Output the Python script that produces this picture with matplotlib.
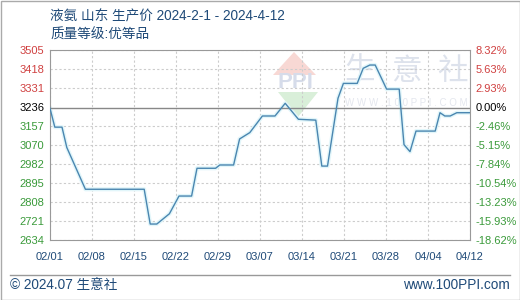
import matplotlib as mpl
mpl.use('agg')
import matplotlib.pyplot as plt
from matplotlib.patches import Polygon, Rectangle
from matplotlib.lines import Line2D
import numpy as np

plt.rcParams['font.family'] = ['Liberation Sans', 'Noto Sans CJK SC', 'DejaVu Sans']

# price series: day offset from 2024-02-01, price (yuan/t)
days = [0, 0.8, 2, 2.8, 5.9, 15.7, 16.7, 17.8, 19.9, 21.5, 23.6, 24.5, 27.6, 28.3,
        30.6, 31.6, 33.3, 35.4, 37.5, 39.2, 41.4, 44.3, 45.3, 46.25, 48, 48.9, 51.2,
        52.2, 53.3, 54.2, 56.1, 58.2, 59, 60, 61, 64.2, 65, 65.8, 66.7, 67.8, 70]
prices = [3236, 3150, 3150, 3057, 2866, 2866, 2707, 2707, 2754, 2835, 2835, 2962, 2962, 2977,
          2977, 3096, 3125, 3201, 3201, 3259, 3186, 3182, 2972, 2972, 3282, 3350, 3350,
          3419, 3434, 3434, 3324, 3324, 3070, 3038, 3132, 3132, 3216, 3201, 3201, 3216, 3216]

base = 3236
ymin, ymax = 2634, 3505
left_labels = ['2634', '2721', '2808', '2895', '2982', '3070', '3157', '3236', '3331', '3418', '3505']
right_labels = ['-18.62%', '-15.93%', '-13.23%', '-10.54%', '-7.84%', '-5.15%', '-2.46%',
                '0.00%', '2.93%', '5.63%', '8.32%']
xtick_days = [0, 7, 14, 21, 28, 35, 42, 49, 56, 63, 70]
xtick_labels = ['02/01', '02/08', '02/15', '02/22', '02/29', '03/07', '03/14', '03/21',
                '03/28', '04/04', '04/12']

W, H = 520, 300
navy = '#1f4a78'
red = '#d04040'
green = '#3a9a3a'

fig = plt.figure(figsize=(W / 100, H / 100), dpi=100)
ax = fig.add_axes([50 / W, 1 - 240 / H, 420 / W, 190.5 / H])

def px(x, y):
    # figure pixel -> axes fraction
    return ((x - 50) / 420, (240 - y) / 190.5)

# watermark
for ch, cx in zip('生意社', [360, 406, 452]):
    ax.text(*px(cx, 71), ch, transform=ax.transAxes, ha='center', va='center',
            fontsize=22, color='#dde2ec', family=['Noto Sans CJK SC'], zorder=0)
ax.text(*px(406, 103), 'W W W . 1 0 0 P P I . C O M', transform=ax.transAxes, ha='center',
        va='center', fontsize=7, color='#e4e7ee', zorder=0)
ax.add_patch(Polygon([px(273, 75), px(294, 52), px(316, 75)], closed=True,
                     transform=ax.transAxes, fc='#f8d8d4', ec='none', zorder=0))
ax.add_patch(Polygon([px(278, 92), px(318, 92), px(298, 117)], closed=True,
                     transform=ax.transAxes, fc='#d9efd9', ec='none', zorder=0))
ax.text(*px(295, 83), 'PPI', transform=ax.transAxes, ha='center', va='center',
        fontsize=16, fontweight='bold', color='#d6dcea', zorder=0)

ax.plot(days, prices, color='#e2f6fa', lw=3, zorder=2, solid_joinstyle='round')
ax.plot(days, prices, color='#4a86b0', lw=1, zorder=3)
ax.axhline(base, color='#888888', lw=1, zorder=2)

ax.set_xlim(0, 70)
ax.set_ylim(ymin, ymax)
yticks = np.linspace(ymin, ymax, 11)
ax.set_yticks(yticks)
ax.set_yticklabels(left_labels)
ax.set_xticks(xtick_days)
ax.set_xticklabels(xtick_labels)
ax.grid(True, color='#cccccc', ls=(0, (2, 2)), lw=0.8, zorder=1)
ax.get_ygridlines()[7].set_visible(False)
ax.tick_params(axis='both', length=0, labelsize=8)
ax.tick_params(axis='y', pad=22)
ax.tick_params(axis='x', pad=9, labelcolor=navy)
for lab, v in zip(ax.get_yticklabels(), yticks):
    lab.set_color(red if v > base + 10 else ('black' if abs(v - base) < 10 else green))
    lab.set_horizontalalignment('left')
for s in ax.spines.values():
    s.set_color('#999999')

ax2 = ax.twinx()
ax2.set_ylim(ymin, ymax)
ax2.set_yticks(yticks)
ax2.set_yticklabels(right_labels)
ax2.tick_params(axis='y', length=0, labelsize=8, pad=4)
for lab, v in zip(ax2.get_yticklabels(), yticks):
    lab.set_color(red if v > base + 10 else ('black' if abs(v - base) < 10 else green))
for s in ax2.spines.values():
    s.set_visible(False)

# titles
fig.text(50 / W, 1 - 16 / H, '液氨 山东 生产价 2024-2-1 - 2024-4-12', fontsize=9.8,
         color=navy, va='center', ha='left')
fig.text(50 / W, 1 - 35 / H, '质量等级:优等品', fontsize=9.8, color=navy, va='center', ha='left')

# footer
fig.add_artist(Line2D([10 / W, 510 / W], [1 - 275 / H, 1 - 275 / H], color='#999999', lw=1))
fig.text(10 / W, 1 - 285 / H, '© 2024.07 生意社', fontsize=9.8, color=navy, va='center', ha='left')
fig.text(510 / W, 1 - 285 / H, 'www.100PPI.com', fontsize=9.8, color=navy, va='center', ha='right')
fig.add_artist(Rectangle((0.5 / W, 0.5 / H), 1 - 1 / W, 1 - 1 / H, transform=fig.transFigure,
                         fill=False, ec='#aaaaaa', lw=1))

fig.savefig('out.png', dpi=100)
